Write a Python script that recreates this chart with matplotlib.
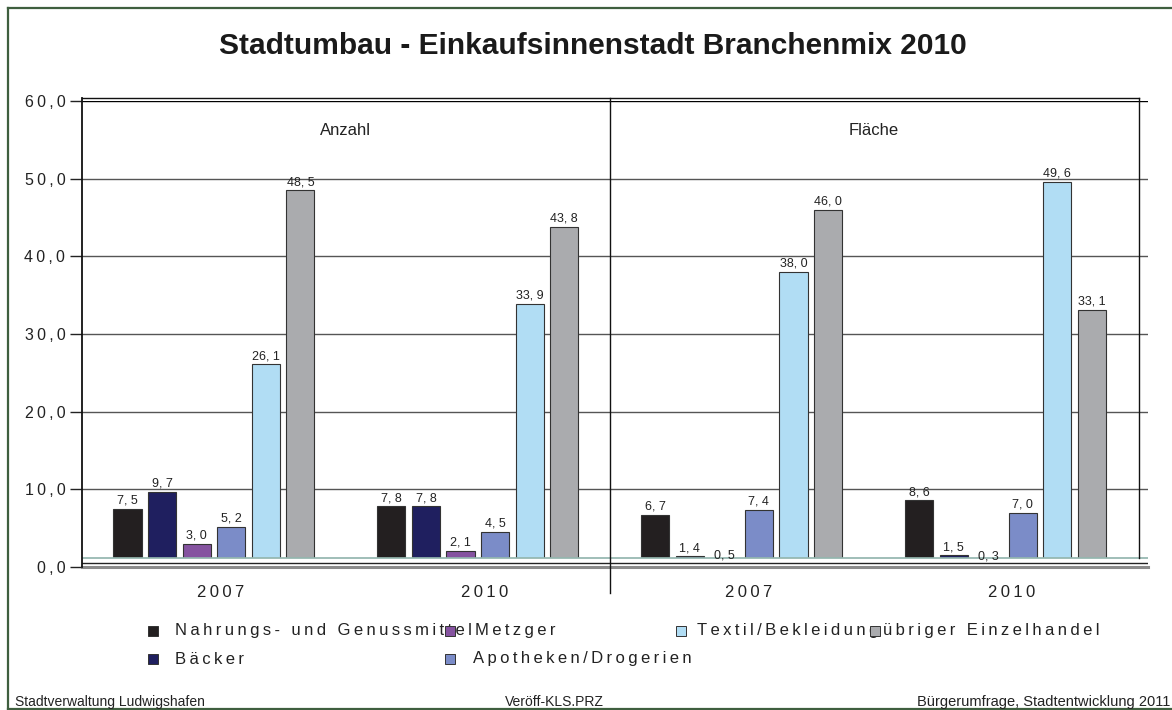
import matplotlib
matplotlib.use("Agg")
import matplotlib.pyplot as plt
from matplotlib.patches import Rectangle
from matplotlib.lines import Line2D
import numpy as np

plt.rcParams['font.family'] = ['Liberation Sans', 'DejaVu Sans']

# ---------------- data ----------------
title = "Stadtumbau - Einkaufsinnenstadt Branchenmix 2010"
panels = ["Anzahl", "Fläche"]
groups = ["2007", "2010", "2007", "2010"]
series = ["Nahrungs- und Genussmittel", "Bäcker", "Metzger",
          "Apotheken/Drogerien", "Textil/Bekleidung", "übriger Einzelhandel"]
nahrung = [7.5, 7.8, 6.7, 8.6]
baecker = [9.7, 7.8, 1.4, 1.5]
metzger = [3.0, 2.1, 0.5, 0.3]
apotheken = [5.2, 4.5, 7.4, 7.0]
textil = [26.1, 33.9, 38.0, 49.6]
uebriger = [48.5, 43.8, 46.0, 33.1]
values = [nahrung, baecker, metzger, apotheken, textil, uebriger]
colors = ["#231f20", "#1f1f5f", "#8553a0", "#7b8cc8", "#b1ddf4", "#aaabae"]
yticks = [0, 10, 20, 30, 40, 50, 60]
footer_left = "Stadtverwaltung Ludwigshafen"
footer_mid = "Veröff-KLS.PRZ"
footer_right = "Bürgerumfrage, Stadtentwicklung 2011"

W, H = 1172, 710


def sp(s):
    return "\u2009".join(s)


def fx(px):
    return px / W


def fy(py):
    return 1 - py / H


fig = plt.figure(figsize=(W / 100, H / 100), dpi=100)
ax = fig.add_axes([fx(82), fy(567), fx(1148) - fx(82), fy(101) - fy(567)])

x = np.arange(len(groups))
pitch = 0.131
width = 0.107
n = len(series)
for i, (vals, c) in enumerate(zip(values, colors)):
    pos = x + (i - (n - 1) / 2) * pitch
    bars = ax.bar(pos, vals, width=width, color=c, edgecolor="#333333",
                  linewidth=0.8, zorder=2)
    ax.bar_label(bars, labels=[f"{v:.1f}".replace(".", ", ") for v in vals],
                 padding=1.5, fontsize=9, color="#222222", zorder=5)

ax.set_xlim(-0.5, len(groups) - 0.5 + 0.04)
ax.set_ylim(0, 60)

# gridlines
for t in yticks[1:]:
    ax.axhline(t, color="#000000" if t == 60 else "#555555", lw=1.0, zorder=1)

# floor (3D-like)
ax.axhspan(0, 1.1, color="white", zorder=3)
ax.axhline(1.1, color="#8fb3ab", lw=1.2, zorder=4)
ax.axhline(0.55, color="#222222", lw=1.0, zorder=4)
ax.axhline(0.0, color="#8a8a8a", lw=2.2, zorder=4, clip_on=False)

for s in ax.spines.values():
    s.set_visible(False)

# frame lines
xl, xr = ax.get_xlim()
xframe_r = xr - 0.035
ax.plot([xl, xframe_r], [60.42, 60.42], color="#111111", lw=1.0, clip_on=False, zorder=6)
ax.plot([xl, xl], [0, 60.42], color="#111111", lw=1.3, clip_on=False, zorder=6)
ax.plot([xframe_r, xframe_r], [1.1, 60.42], color="#111111", lw=1.0, clip_on=False, zorder=6)
# panel divider
ax.plot([1.5, 1.5], [-3.3, 60.42], color="#111111", lw=1.0, clip_on=False, zorder=6)

# ticks
ax.set_yticks(yticks)
ax.set_yticklabels([sp(f"{t:.1f}".replace(".", ",")) for t in yticks], fontsize=11.5,
                   color="#222222")
ax.tick_params(axis="y", direction="out", length=9, width=1, pad=3, color="#222222")
ax.set_xticks([])

# year labels
for g, lab in zip(x, groups):
    ax.text(g + 0.025, -3.3, sp(lab), ha="center", va="center", fontsize=12,
            color="#222222")

# panel labels
for k, p in enumerate(panels):
    ax.text(2 * k + 0.5, 56.2, p, ha="center", va="center", fontsize=12,
            color="#222222")

# title
fig.text(fx(593), fy(46), title, ha="center", va="center", fontsize=21.5,
         fontweight="bold", color="#1a1a1a")

# legend (manual, as in the original layout)
marker_x = [148, 148, 445, 445, 676, 870]
text_x = [175, 175, 475, 473, 697, 883]
row_y = [631, 659, 631, 659, 631, 631]
for i in range(n):
    fig.patches.append(Rectangle((fx(marker_x[i]), fy(row_y[i] + 5)),
                                 fx(10), 10 / H, transform=fig.transFigure,
                                 facecolor=colors[i], edgecolor="#333333",
                                 linewidth=0.7, zorder=3))
for i in range(n):
    fig.text(fx(text_x[i]), fy(row_y[i]), sp(series[i]), ha="left",
             va="center", fontsize=12, color="#222222", zorder=2)

# footers
fig.text(fx(15), fy(706), footer_left, ha="left", va="baseline", fontsize=10,
         color="#222222")
fig.text(fx(554), fy(706), footer_mid, ha="center", va="baseline", fontsize=10,
         color="#222222")
fig.text(fx(1170), fy(706), footer_right, ha="right", va="baseline", fontsize=10.5,
         color="#222222")

# outer border
border = "#3f5f3f"
fig.add_artist(Line2D([fx(8), fx(8)], [fy(8), fy(709)], color=border, lw=1.6,
                      transform=fig.transFigure))
fig.add_artist(Line2D([fx(8), 1], [fy(8), fy(8)], color=border, lw=1.6,
                      transform=fig.transFigure))
fig.add_artist(Line2D([fx(8), 1], [fy(709), fy(709)], color=border, lw=1.6,
                      transform=fig.transFigure))

fig.savefig("out.png", dpi=100)
